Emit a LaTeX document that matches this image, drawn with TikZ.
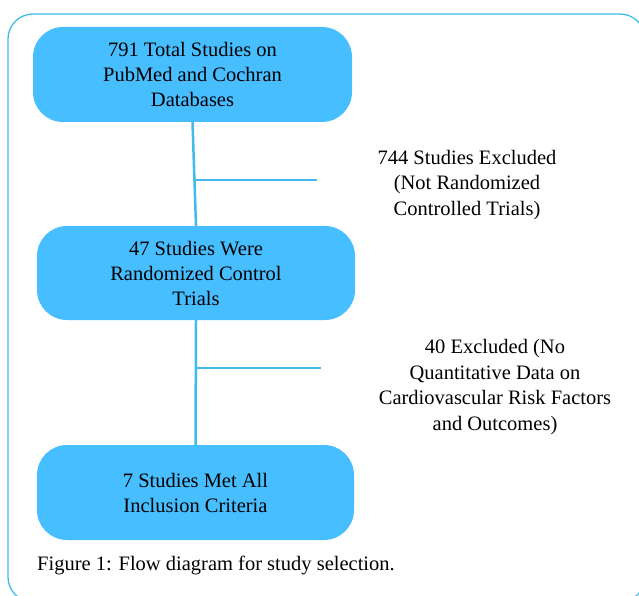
\documentclass[tikz,border=0pt]{standalone}
\usepackage{fontspec}
\setmainfont{Liberation Serif}
\usetikzlibrary{calc}
\definecolor{boxblue}{RGB}{71,190,255}
\definecolor{lineblue}{RGB}{66,186,238}
\definecolor{frameblue}{RGB}{62,190,232}
\tikzset{
	stagebox/.style={draw=none,fill=boxblue,rounded corners=30pt,align=center,
		font=\fontsize{20.5}{25}\selectfont,inner sep=0pt},
	link/.style={draw=lineblue,line width=2.5pt},
	note/.style={align=center,font=\fontsize{20.5}{25.5}\selectfont}
}
\begin{document}
\begin{tikzpicture}[x=1pt,y=-1pt]
				\useasboundingbox (0,0) rectangle (639,596);
				\clip (0,0) rectangle (639,596);
				\draw[frameblue,line width=1.3pt,rounded corners=25pt] (8,14) rectangle (645,602);
				\node[stagebox,minimum width=319pt,minimum height=95pt] (total) at (192.5,74.5)
				{791 Total Studies on\\PubMed and Cochran\\Databases};
				\node[stagebox,minimum width=318pt,minimum height=94pt] (rct) at (196,273)
				{47 Studies Were\\Randomized Control\\Trials};
				\node[stagebox,minimum width=317pt,minimum height=95pt] (incl) at (195.5,492.5)
				{7 Studies Met All\\Inclusion Criteria};
				\draw[link] (total.south) -- (rct.north)
				($(total.south)!.56!(rct.north)$) coordinate (j1)
				(rct.south) -- (incl.north)
				($(rct.south)!.384!(incl.north)$) coordinate (j2);
				\coordinate (e1) at (317,180);
				\coordinate (e2) at (321,368);
				\draw[link] (j1) -- (j1 -| e1) (j2) -- (j2 -| e2);
				\node[note] (exc1) at (467,185)
				{744 Studies Excluded\\(Not Randomized\\Controlled Trials)};
				\node[note] (exc2) at (495,387)
				{40 Excluded (No\\Quantitative Data on\\Cardiovascular Risk Factors\\and Outcomes)};
				\node[anchor=west,inner sep=0pt,font=\fontsize{20.5}{24}\selectfont] (cap) at (37,565)
				{Figure 1: Flow diagram for study selection.};
			\end{tikzpicture}
\end{document}
